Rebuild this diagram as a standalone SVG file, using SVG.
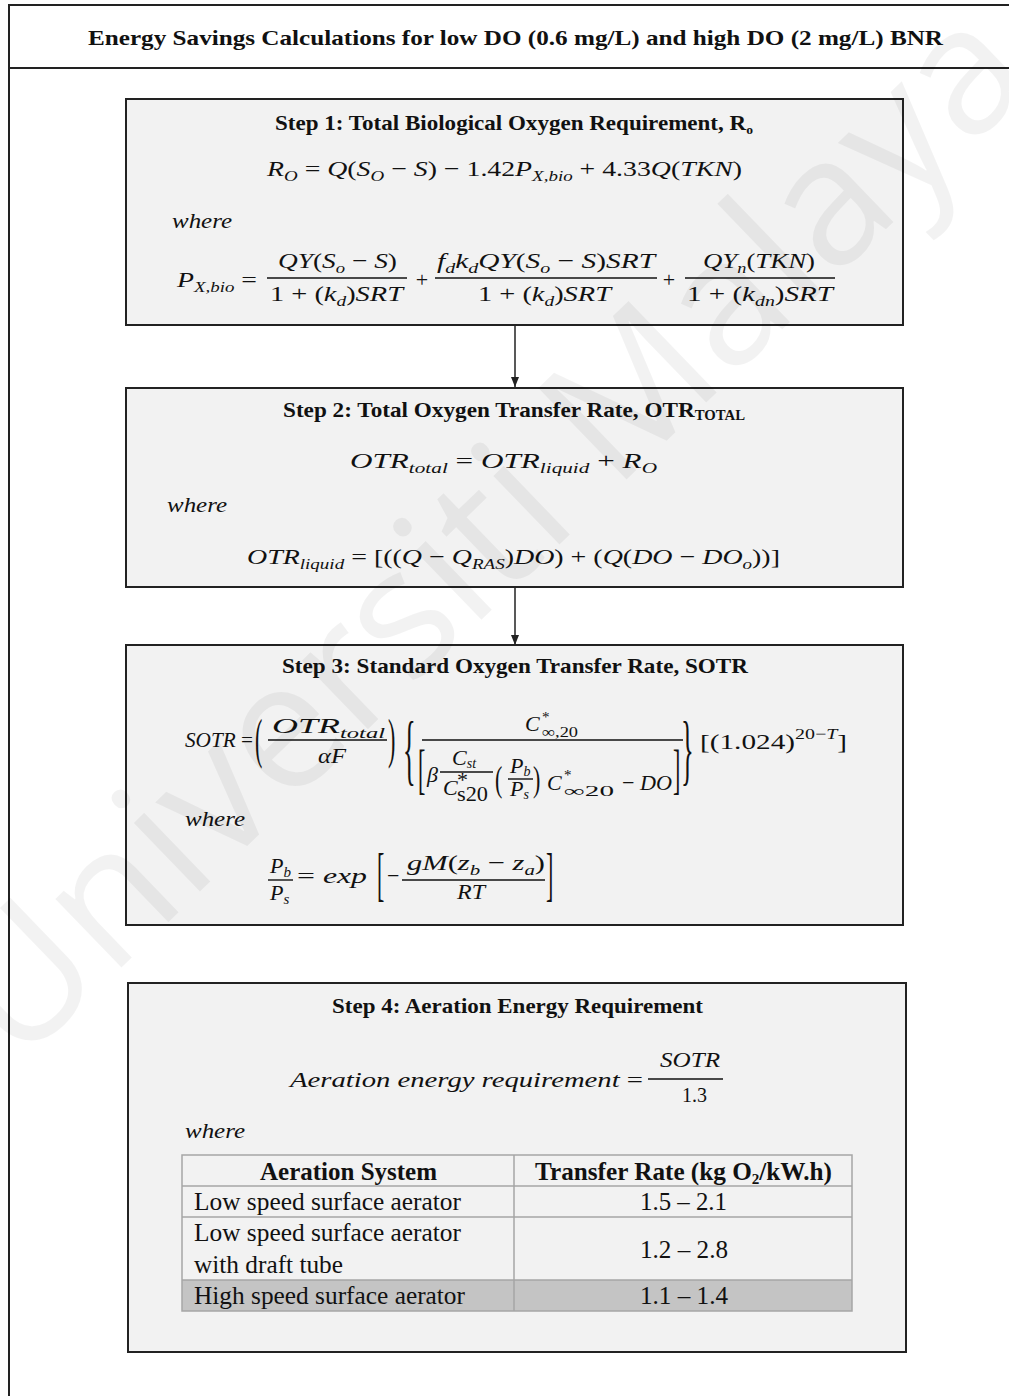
<svg xmlns="http://www.w3.org/2000/svg" width="1009" height="1396" viewBox="0 0 1009 1396">
<style>
.box{fill:#f2f2f2;stroke:#222;stroke-width:2}
.h{font-family:"Liberation Serif","Times New Roman",serif;font-weight:bold;font-size:22px;fill:#111}
.m{font-family:"Liberation Serif","Times New Roman",serif;font-style:italic;font-size:22px;fill:#111}
.u{font-style:normal}
.s{font-size:15px}
.bar{stroke:#111;stroke-width:1.4}
.t{font-family:"Liberation Serif","Times New Roman",serif;font-size:25px;fill:#111}
.tb{font-weight:bold}
.grid{stroke:#a6a6a6;stroke-width:1.5;fill:none}
.wm{font-family:"Open Sans",sans-serif;font-size:178px;fill:#000;fill-opacity:0.05}
.con{stroke:#222;stroke-width:1.5;fill:none}
</style>
<defs>
<marker id="ah" markerWidth="10" markerHeight="10" refX="10" refY="5" orient="auto" markerUnits="userSpaceOnUse"><path d="M0,1 L10,5 L0,9 z" fill="#222"/></marker>
</defs>
<rect width="1009" height="1396" fill="#fff"/>
<g id="frame">
<path d="M1009 5 H9 V1396" fill="none" stroke="#222" stroke-width="2"/>
<line x1="9" y1="68" x2="1009" y2="68" stroke="#222" stroke-width="2"/>
<text class="h" x="88" y="45" font-size="25" textLength="855" lengthAdjust="spacingAndGlyphs">Energy Savings Calculations for low DO (0.6 mg/L) and high DO (2 mg/L) BNR</text>
</g>
<g id="connectors">
<line class="con" x1="515" y1="326" x2="515" y2="387" marker-end="url(#ah)"/>
<line class="con" x1="515" y1="588" x2="515" y2="645" marker-end="url(#ah)"/>
</g>
<g id="step1">
<rect class="box" x="126" y="99" width="777" height="226"/>
<text class="h" x="275" y="130" textLength="478" lengthAdjust="spacingAndGlyphs">Step 1: Total Biological Oxygen Requirement, R<tspan font-size="13" dy="4">o</tspan></text>
<text class="m" x="267" y="176" textLength="475" lengthAdjust="spacingAndGlyphs">R<tspan class="s" dy="5">O</tspan><tspan class="u" dy="-5"> = </tspan>Q<tspan class="u">(</tspan>S<tspan class="s" dy="5">O</tspan><tspan class="u" dy="-5"> − </tspan>S<tspan class="u">) − 1.42</tspan>P<tspan class="s" dy="5">X,bio</tspan><tspan class="u" dy="-5"> + 4.33</tspan>Q<tspan class="u">(</tspan>TKN<tspan class="u">)</tspan></text>
<text class="m" x="172" y="228" textLength="60" lengthAdjust="spacingAndGlyphs">where</text>
<text class="m" x="177" y="287" textLength="80" lengthAdjust="spacingAndGlyphs">P<tspan class="s" dy="5">X,bio</tspan><tspan class="u" dy="-5"> =</tspan></text>
<line class="bar" x1="267" y1="278" x2="407" y2="278"/>
<text class="m" x="278" y="268" textLength="119" lengthAdjust="spacingAndGlyphs">QY<tspan class="u">(</tspan>S<tspan class="s" dy="5">o</tspan><tspan class="u" dy="-5"> − </tspan>S<tspan class="u">)</tspan></text>
<text class="m" x="270" y="301" textLength="133" lengthAdjust="spacingAndGlyphs"><tspan class="u">1 + (</tspan>k<tspan class="s" dy="5">d</tspan><tspan class="u" dy="-5">)</tspan>SRT</text>
<text class="m u" x="422" y="287" font-size="24" text-anchor="middle">+</text>
<line class="bar" x1="435" y1="278" x2="657" y2="278"/>
<text class="m" x="437" y="268" textLength="218" lengthAdjust="spacingAndGlyphs">f<tspan class="s" dy="5">d</tspan><tspan dy="-5">k</tspan><tspan class="s" dy="5">d</tspan><tspan dy="-5">QY</tspan><tspan class="u">(</tspan>S<tspan class="s" dy="5">o</tspan><tspan class="u" dy="-5"> − </tspan>S<tspan class="u">)</tspan>SRT</text>
<text class="m" x="478" y="301" textLength="133" lengthAdjust="spacingAndGlyphs"><tspan class="u">1 + (</tspan>k<tspan class="s" dy="5">d</tspan><tspan class="u" dy="-5">)</tspan>SRT</text>
<text class="m u" x="669" y="287" font-size="24" text-anchor="middle">+</text>
<line class="bar" x1="685" y1="278" x2="835" y2="278"/>
<text class="m" x="703" y="268" textLength="112" lengthAdjust="spacingAndGlyphs">QY<tspan class="s" dy="5">n</tspan><tspan class="u" dy="-5">(</tspan>TKN<tspan class="u">)</tspan></text>
<text class="m" x="687" y="301" textLength="146" lengthAdjust="spacingAndGlyphs"><tspan class="u">1 + (</tspan>k<tspan class="s" dy="5">dn</tspan><tspan class="u" dy="-5">)</tspan>SRT</text>
</g>
<g id="step2">
<rect class="box" x="126" y="388" width="777" height="199"/>
<text class="h" x="283" y="417" textLength="462" lengthAdjust="spacingAndGlyphs">Step 2: Total Oxygen Transfer Rate, OTR<tspan font-size="14" dy="3">TOTAL</tspan></text>
<text class="m" x="350" y="468" textLength="307" lengthAdjust="spacingAndGlyphs">OTR<tspan class="s" dy="5">total</tspan><tspan class="u" dy="-5"> = </tspan>OTR<tspan class="s" dy="5">liquid</tspan><tspan class="u" dy="-5"> + </tspan>R<tspan class="s" dy="5">O</tspan></text>
<text class="m" x="167" y="512" textLength="60" lengthAdjust="spacingAndGlyphs">where</text>
<text class="m" x="247" y="564" textLength="533" lengthAdjust="spacingAndGlyphs">OTR<tspan class="s" dy="5">liquid</tspan><tspan class="u" dy="-5"> = [((</tspan>Q<tspan class="u"> − </tspan>Q<tspan class="s" dy="5">RAS</tspan><tspan class="u" dy="-5">)</tspan>DO<tspan class="u">) + (</tspan>Q<tspan class="u">(</tspan>DO<tspan class="u"> − </tspan>DO<tspan class="s" dy="5">o</tspan><tspan class="u" dy="-5">))]</tspan></text>
</g>
<g id="step3">
<rect class="box" x="126" y="645" width="777" height="280"/>
<text class="h" x="282" y="673" textLength="466" lengthAdjust="spacingAndGlyphs">Step 3: Standard Oxygen Transfer Rate, SOTR</text>
<text class="m" x="185" y="747" font-size="25" textLength="68" lengthAdjust="spacingAndGlyphs">SOTR<tspan class="u"> =</tspan></text>
<text class="m u" font-size="24" transform="translate(255,757) scale(1,2.5)">(</text>
<text class="m" x="272" y="733" font-size="23" textLength="113" lengthAdjust="spacingAndGlyphs">OTR<tspan class="s" dy="5">total</tspan></text>
<line class="bar" x1="268" y1="740" x2="387" y2="740"/>
<text class="m" x="318" y="763" font-size="23" textLength="28" lengthAdjust="spacingAndGlyphs">αF</text>
<text class="m u" font-size="24" transform="translate(388,757) scale(1,2.5)">)</text>
<text class="m u" font-size="30" transform="translate(403,776) scale(1.2,3.6)">{</text>
<line class="bar" x1="422" y1="740" x2="683" y2="740"/>
<text class="m" x="525" y="731" font-size="23">C</text>
<text class="m u s" x="542" y="722">*</text>
<text class="m u s" x="542" y="737" textLength="36" lengthAdjust="spacingAndGlyphs">∞,20</text>
<text class="m u" font-size="22" transform="translate(418,788) scale(1,2.5)">[</text>
<text class="m" x="427" y="782" font-size="23">β</text>
<text class="m" font-size="20" x="452" y="765">C<tspan font-size="14" dy="3">st</tspan></text>
<line class="bar" x1="440" y1="772" x2="493" y2="772"/>
<text class="m" font-size="20" x="443" y="795">C</text>
<text class="m u" font-size="14" x="457" y="787">*</text>
<text class="m u" font-size="14" x="457" y="801" textLength="31" lengthAdjust="spacingAndGlyphs">s20</text>
<text class="m u" font-size="20" transform="translate(495,791) scale(1,1.6)">(</text>
<text class="m" font-size="20" x="510" y="773">P<tspan font-size="14" dy="3">b</tspan></text>
<line class="bar" x1="508" y1="779" x2="533" y2="779"/>
<text class="m" font-size="20" x="510" y="796">P<tspan font-size="14" dy="3">s</tspan></text>
<text class="m u" font-size="20" transform="translate(533,791) scale(1,1.6)">)</text>
<text class="m" x="547" y="790" font-size="23">C</text>
<text class="m u s" x="564" y="780">*</text>
<text class="m u s" x="564" y="796" textLength="50" lengthAdjust="spacingAndGlyphs">∞20</text>
<text class="m" x="622" y="790" font-size="23" textLength="50" lengthAdjust="spacingAndGlyphs"><tspan class="u">− </tspan>DO</text>
<text class="m u" font-size="22" transform="translate(673,788) scale(1,2.5)">]</text>
<text class="m u" font-size="30" transform="translate(681,776) scale(1.2,3.6)">}</text>
<text class="m" x="700" y="749" font-size="23" textLength="147" lengthAdjust="spacingAndGlyphs"><tspan class="u">[(1.024)</tspan><tspan class="u s" dy="-10">20−</tspan><tspan class="s">T</tspan><tspan class="u" dy="10">]</tspan></text>
<text class="m" x="185" y="826" textLength="60" lengthAdjust="spacingAndGlyphs">where</text>
<text class="m" x="270" y="873" font-size="23">P<tspan class="s" dy="4">b</tspan></text>
<line class="bar" x1="268" y1="880" x2="293" y2="880"/>
<text class="m" x="270" y="900" font-size="23">P<tspan class="s" dy="4">s</tspan></text>
<text class="m" x="297" y="883" font-size="23" textLength="70" lengthAdjust="spacingAndGlyphs"><tspan class="u">= </tspan>exp</text>
<text class="m u" font-size="22" transform="translate(377,894) scale(1,2.7)">[</text>
<text class="m u" x="387" y="883" font-size="23">−</text>
<text class="m" x="407" y="870" font-size="23" textLength="138" lengthAdjust="spacingAndGlyphs">gM<tspan class="u">(</tspan>z<tspan class="s" dy="5">b</tspan><tspan class="u" dy="-5"> − </tspan>z<tspan class="s" dy="5">a</tspan><tspan class="u" dy="-5">)</tspan></text>
<line class="bar" x1="402" y1="880" x2="545" y2="880"/>
<text class="m" x="457" y="899" font-size="23" textLength="28" lengthAdjust="spacingAndGlyphs">RT</text>
<text class="m u" font-size="22" transform="translate(546,894) scale(1,2.7)">]</text>
</g>
<g id="step4">
<rect class="box" x="128" y="983" width="778" height="369"/>
<text class="h" x="332" y="1013" textLength="371" lengthAdjust="spacingAndGlyphs">Step 4: Aeration Energy Requirement</text>
<text class="m" x="290" y="1087" font-size="23" textLength="353" lengthAdjust="spacingAndGlyphs">Aeration energy requirement <tspan class="u">=</tspan></text>
<text class="m" x="660" y="1067" font-size="23" textLength="60" lengthAdjust="spacingAndGlyphs">SOTR</text>
<line class="bar" x1="648" y1="1079" x2="723" y2="1079"/>
<text class="m u" x="682" y="1102" font-size="23" textLength="25" lengthAdjust="spacingAndGlyphs">1.3</text>
<text class="m" x="185" y="1138" textLength="60" lengthAdjust="spacingAndGlyphs">where</text>
<g id="table">
<rect x="182" y="1280" width="670" height="31" fill="#c4c4c4"/>
<rect class="grid" x="182" y="1155" width="670" height="156"/>
<line class="grid" x1="182" y1="1186" x2="852" y2="1186"/>
<line class="grid" x1="182" y1="1217" x2="852" y2="1217"/>
<line class="grid" x1="182" y1="1280" x2="852" y2="1280"/>
<line class="grid" x1="514" y1="1155" x2="514" y2="1311"/>
<text class="t tb" x="260" y="1180" textLength="177" lengthAdjust="spacingAndGlyphs">Aeration System</text>
<text class="t tb" x="535" y="1180" textLength="297" lengthAdjust="spacingAndGlyphs">Transfer Rate (kg O<tspan font-size="15" dy="4">2</tspan><tspan dy="-4">/kW.h)</tspan></text>
<text class="t" x="194" y="1210" textLength="267" lengthAdjust="spacingAndGlyphs">Low speed surface aerator</text>
<text class="t" x="640" y="1210" textLength="87" lengthAdjust="spacingAndGlyphs">1.5 – 2.1</text>
<text class="t" x="194" y="1241" textLength="267" lengthAdjust="spacingAndGlyphs">Low speed surface aerator</text>
<text class="t" x="194" y="1273" textLength="149" lengthAdjust="spacingAndGlyphs">with draft tube</text>
<text class="t" x="640" y="1258" textLength="88" lengthAdjust="spacingAndGlyphs">1.2 – 2.8</text>
<text class="t" x="194" y="1304" textLength="271" lengthAdjust="spacingAndGlyphs">High speed surface aerator</text>
<text class="t" x="640" y="1304" textLength="88" lengthAdjust="spacingAndGlyphs">1.1 – 1.4</text>
</g>
</g>
<g id="watermark">
<text class="wm" transform="translate(485,530) rotate(-44)" x="0" y="62" text-anchor="middle">Universiti Malaya</text>
</g>
</svg>
